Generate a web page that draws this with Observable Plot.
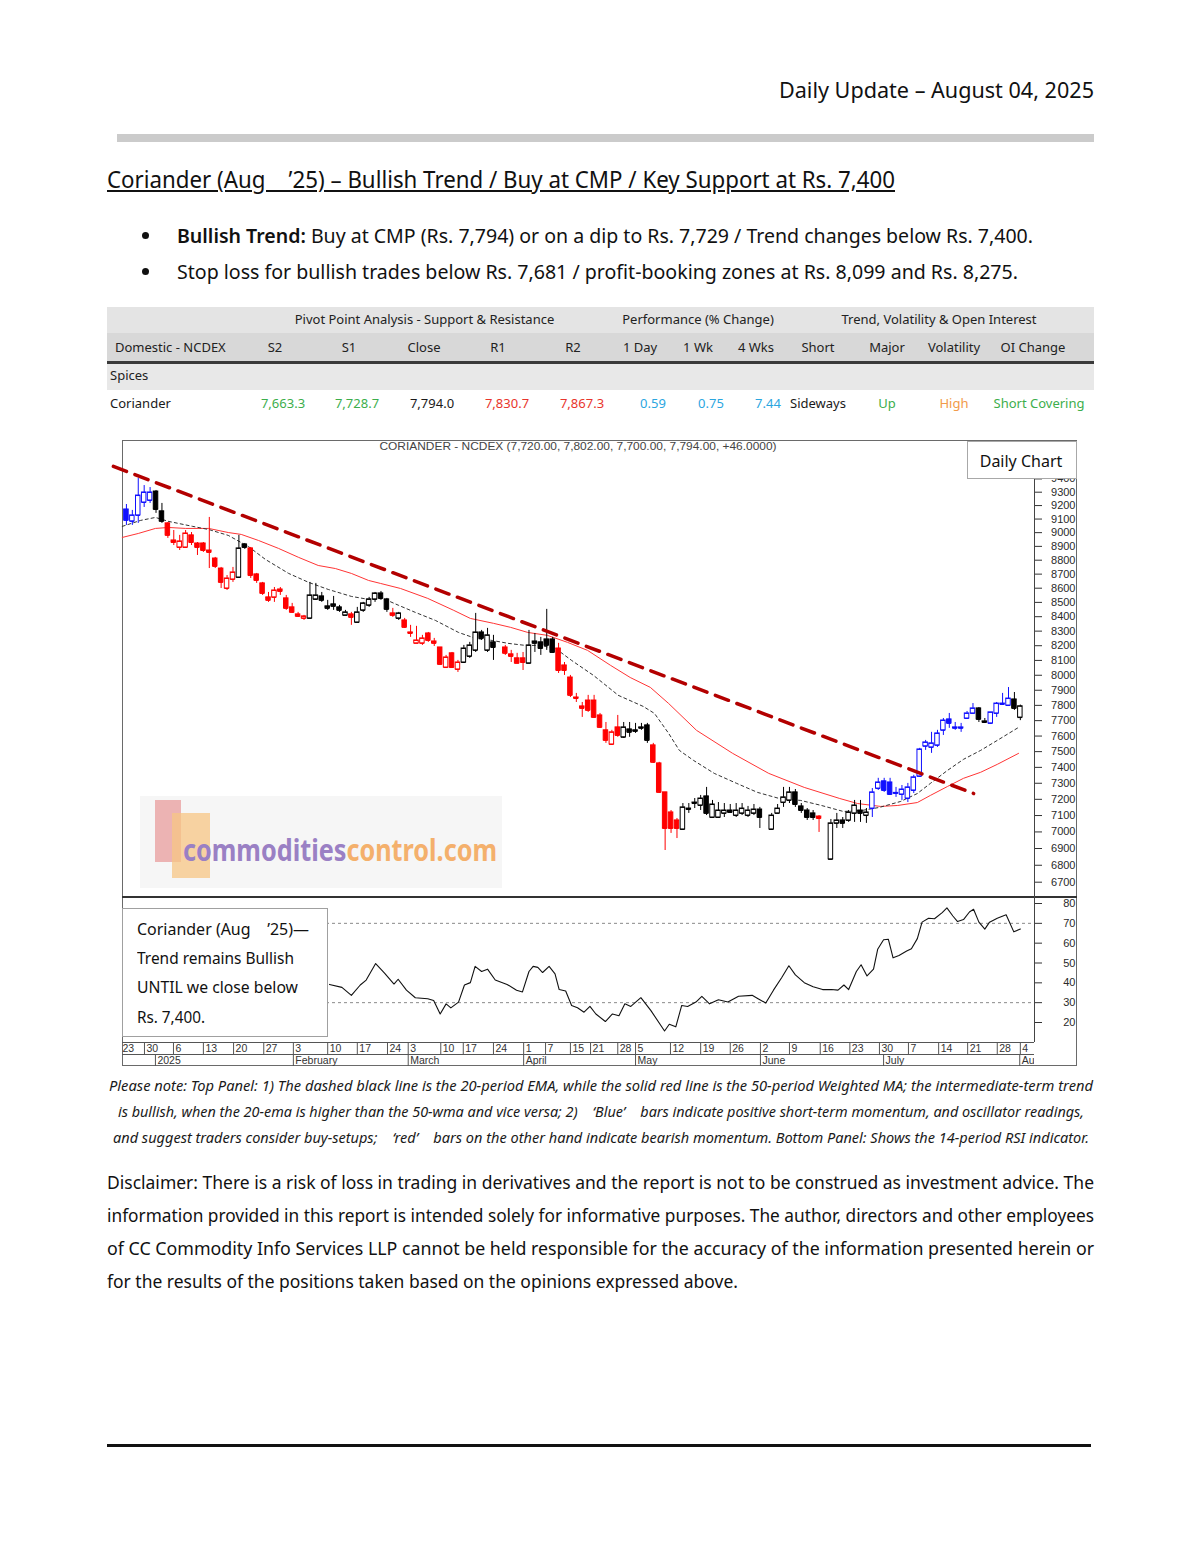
<!DOCTYPE html>
<html>
<head>
<meta charset="utf-8">
<title>Coriander Daily Update</title>
<script src="https://cdn.jsdelivr.net/npm/d3@7"></script>
<script src="https://cdn.jsdelivr.net/npm/@observablehq/plot@0.6"></script>
<style>
html,body{margin:0;padding:0;background:#fff;}
#page{position:relative;width:1200px;height:1553px;overflow:hidden;font-family:"Noto Sans",sans-serif;color:#1a1a1a;}
.t{position:absolute;white-space:pre;}
.box{position:absolute;box-sizing:border-box;}
.plotwrap{position:absolute;}
.plotwrap svg{display:block;overflow:visible;}
</style>
</head>
<body>
<div id="page"></div>
<script>
// ---------------- DATA ----------------
// trading-day index of each candle (0 = 23 Dec 2024, last = 4 Aug 2025)
const candleIdx = [1,2,3,4,5,6,7,8,9,10,11,12,13,14,15,16,17,18,19,20,21,22,23,24,25,26,27,28,29,30,31,32,33,34,35,36,37,38,39,40,
41,42,43,44,45,46,47,48,49,50,51,52,53,54,55,56,57,58,59,60,61,62,63,
65,66,67,68,69,70,71,72,73,74,75,76,77,78,79,80,81,82,83,84,85,86,87,88,89,90,91,92,93,94,95,96,97,98,99,100,101,102,103,104,105,106,107,108,
110,111,112,113,114,115,116,117,118,
120,121,122,123,124,125,126,127,128,129,130,131,132,133,134,135,136,137,138,139,140,141,142,143,144,145,146,147,148,149,150,151,152];
const candleOpen = [9171,9083,9127,9223,9238,9305,9157,9068,8943,8892, 8892,8980,8921,8921,8870,8812,8740,8598,8662,8676,
8914,8885,8698,8634,8535,8535,8591,8528,8465,8416, 8388,8388,8521,8542,8472,8486,8465,8409,8416,8360,
8444,8479,8521,8563,8521,8423,8388,8374,8291,8216, 8216,8284,8229,8188,8052,8148,8039,8086,8127,8168,8291,8168,8223,
8188,8141,8114,8114,8080,8229,8223,8243,8243,8181, 8066,7985,7852,7793,7832,7832,7734,7637,7546,7656,
7592,7643,7637,7656,7669,7540,7425,7243,7119,7070, 7015,7143,7180,7162,7218,7088,7088,7113,7131,7100, 7113,7100,7113,7137,
7015,7113,7180,7193,7243,7156,7131,7113,7094,
6835,7052,7070,7070,7113,7131,7100,7143,7267,7312, 7305,7240,7230,7205,7255,7343,7534,7527,7540,7637,
7708,7656,7650,7714,7747,7780,7695,7682,7747,7806, 7799,7839,7720];
const candleHigh = [9208,9164,9403,9350,9335,9313,9216,9075,9016,8980, 9016,9001,8928,8928,9112,8820,8748,8690,8748,8980,
8921,8892,8705,8641,8570,8605,8605,8549,8493,8430, 8409,8641,8634,8570,8514,8542,8479,8444,8430,8465,
8500,8535,8570,8577,8528,8458,8430,8388,8340,8333, 8271,8291,8250,8188,8134,8154,8100,8202,8223,8423,8305,8319,8271,
8202,8168,8148,8154,8305,8284,8257,8451,8257,8216, 8086,7999,7879,7819,7866,7866,7747,7688,7637,7734,
7688,7688,7682,7682,7682,7553,7432,7243,7131,7082, 7174,7174,7205,7224,7274,7193,7180,7174,7168,7174, 7174,7156,7168,7150,
7113,7168,7274,7274,7261,7174,7143,7131,7100,
7076,7113,7088,7131,7193,7193,7143,7267,7331,7331, 7331,7274,7286,7299,7350,7521,7572,7624,7637,7714,
7747,7688,7682,7760,7812,7786,7714,7754,7819,7879, 7918,7885,7802];
const candleLow = [9053,9053,9068,9186,9216,9142,9068,8958,8906,8870, 8885,8906,8834,8856,8740,8740,8598,8584,8641,8676,
8878,8669,8634,8549,8500,8500,8549,8444,8423,8395, 8374,8388,8514,8500,8444,8444,8430,8409,8340,8360,
8430,8465,8500,8514,8430,8395,8374,8319,8257,8216, 8202,8223,8195,8066,8046,8046,8019,8080,8114,8154,8236,8154,8100,
8134,8086,8080,8032,8080,8154,8134,8168,8148,8012, 7999,7852,7819,7721,7754,7714,7650,7553,7540,7592,
7585,7592,7617,7637,7553,7425,7236,6888,6991,6960, 7015,7113,7143,7131,7100,7088,7082,7088,7113,7088, 7100,7088,7100,7021,
7009,7113,7150,7174,7150,7113,7070,7070,6997,
6829,7021,7021,7058,7058,7058,7052,7088,7255,7243, 7224,7212,7193,7180,7236,7337,7508,7489,7527,7604,
7650,7637,7624,7714,7747,7688,7682,7675,7721,7799, 7793,7767,7700];
const candleClose = [9090,9127,9275,9298,9298,9171,9083,8980,8928,8936, 8994,8928,8892,8870,8856,8755,8641,8669,8712,8885,
8892,8690,8655,8563,8514,8584,8577,8458,8430,8402, 8402,8549,8549,8514,8458,8472,8444,8430,8395,8430,
8493,8521,8563,8528,8451,8409,8423,8326,8284,8236, 8250,8236,8216,8073,8120,8052,8086,8181,8202,8291,8250,8271,8188,
8148,8127,8080,8086,8202,8216,8181,8202,8154,8032, 8032,7866,7845,7780,7767,7721,7656,7572,7624,7604,
7656,7624,7630,7650,7572,7432,7243,7021,7021,7021, 7150,7137,7174,7205,7113,7168,7131,7131,7119,7131, 7143,7131,7137,7088,
7100,7143,7212,7243,7168,7131,7088,7088,7082,
7052,7070,7052,7119,7162,7113,7119,7243,7305,7255, 7230,7236,7261,7274,7337,7514,7559,7553,7617,7701,
7682,7650,7656,7747,7780,7708,7688,7754,7812,7812, 7845,7780,7794];
// bar colour: b = blue (positive momentum), k = black (neutral), r = red (bearish)
const candleColor = ["b","b","b","b","b","k","k","r","r","r", "r","r","r","r","r","r","r","r","r","k",
"k","r","r","r","r","r","r","r","r","r", "r","k","k","k","k","k","k","k","r","k",
"k","k","k","k","k","r","k","r","r","r", "r","r","r","r","r","r","r","k","k","k","k","k","k",
"r","r","r","r","k","k","k","k","k","r", "r","r","r","r","r","r","r","r","r","r",
"k","k","k","k","k","r","r","r","r","r", "k","k","k","k","k","k","k","k","k","k", "k","k","k","k",
"k","k","k","k","k","k","k","k","r",
"k","k","k","k","k","k","k","b","b","b", "b","b","b","b","b","b","b","b","b","b",
"b","b","b","b","b","k","k","b","b","b", "b","k","k"];

// 20-period EMA (dashed black)
const emaIdx = [0.3,3.4,5.9,8.1,12.2,14.9,18.2,21.6,24.5,28.4,31.8,35.1,39.0,41.9,44.3,47.0,49.8,53.2,57.1,60.0,62.8,65.5,68.4,70.9,73.5,76.2,79.9,84.1,88.3,90.2,92.6,94.4,96.8,100.3,104.1,107.6,111.3,114.9,118.4,122.1,125.2,128.2,131.8,134.6,136.8,139.7,142.4,145.3,148.1,151.7];
const emaVal = [9046,9090,9112,9083,9046,9023,8980,8899,8805,8705,8641,8591,8542,8521,8528,8479,8430,8374,8291,8250,8236,8216,8202,8202,8181,8100,7999,7866,7793,7747,7617,7508,7444,7362,7299,7243,7205,7193,7162,7125,7131,7150,7187,7236,7299,7381,7451,7508,7572,7656];
// 50-period WMA (solid red)
const wmaIdx = [0.3,3.0,5.9,8.1,11.0,14.9,18.2,20.4,23.3,26.7,30.1,33.4,36.3,39.0,41.9,43.9,47.3,51.9,56.3,59.1,63.0,65.9,68.8,72.1,75.5,78.9,82.8,86.1,89.5,92.6,97.3,103.4,109.5,115.5,121.5,124.5,128.4,131.3,134.6,136.8,139.7,142.4,145.3,148.1,151.7];
const wmaVal = [8965,8994,9031,9038,9031,9031,9001,8987,8943,8885,8820,8762,8740,8705,8655,8634,8598,8528,8444,8388,8354,8326,8291,8271,8223,8168,8066,7985,7919,7812,7637,7489,7362,7274,7205,7174,7156,7162,7180,7224,7280,7331,7369,7419,7489];
// hand-drawn falling trend line
const trendIdx = [-1.2, 144.1];
const trendVal = [9495, 7236];
// 14-period RSI
const rsiIdx = [35.3,37.4,39.0,40.5,41.5,43.1,44.6,46.2,46.9,48.3,49.8,51.9,52.9,54.0,55.0,55.8,57.1,58.1,59.1,59.9,61.0,62.0,63.3,65.3,66.9,67.9,69.0,69.7,70.5,71.3,72.4,73.4,74.1,75.2,76.2,77.2,78.3,79.3,80.3,81.9,83.1,84.2,85.2,86.2,87.9,89.6,91.9,92.7,93.8,94.8,95.8,97.2,98.2,99.5,101.0,102.6,104.4,106.7,107.7,109.0,110.3,111.7,112.9,114.0,115.5,117.0,118.6,120.1,121.2,122.2,123.0,124.3,125.1,126.1,127.2,127.9,128.9,129.7,130.5,131.5,132.8,133.6,134.6,135.4,136.5,137.5,138.8,139.6,140.6,141.4,142.4,143.4,144.1,145.0,146.0,146.8,148.1,149.6,150.9,152.0];
const rsiVal = [39.2,37.7,33.7,38.9,41.4,49.7,44.9,39.4,41.8,36.3,32.5,32.0,31.1,24.3,29.4,27.4,30.3,38.9,40.1,48.3,45.7,46.9,41.4,39.2,36.3,35.4,45.7,48.3,47.8,45.2,48.3,44.5,36.6,35.9,28.6,27.4,25.2,28.1,24.3,20.5,24.3,23.4,29.4,28.1,32.5,26.0,15.7,19.1,17.8,28.6,28.1,30.3,33.2,29.4,31.5,30.3,33.2,33.7,32.0,29.8,36.3,42.7,48.6,44.0,40.1,38.0,36.6,36.6,36.3,38.9,36.6,45.7,49.1,43.5,46.9,56.9,61.7,62.0,52.6,53.8,56.0,57.2,62.3,70.6,72.6,72.3,75.4,77.8,73.7,70.9,71.9,75.7,77.1,70.6,67.1,70.6,72.6,74.3,65.7,67.1];
const rsiBands = [30, 70];
const rsiTicks = [20,30,40,50,60,70,80];
const priceTicks = [6700,6800,6900,7000,7100,7200,7300,7400,7500,7600,7700,7800,7900,8000,8100,8200,8300,8400,8500,8600,8700,8800,8900,9000,9100,9200,9300,9400];
// date axis
const dateTickIdx = [0,4.05,8.95,14.0,19.1,24.2,29.2,35.0,40.0,45.1,48.6,54.1,57.9,63.0,68.1,71.8,76.0,79.4,84.0,87.0,92.9,98.0,103.0,108.1,113.0,118.2,123.2,128.2,133.1,138.2,143.1,148.1,152.0];
const dateTickLabel = ["23","30","6","13","20","27","3","10","17","24","3","10","17","24","1","7","15","21","28","5","12","19","26","2","9","16","23","30","7","14","21","28","4"];
const monthIdx = [5.9,29.2,48.6,68.1,87.0,108.1,128.9,151.9];
const monthLabel = ["2025","February","March","April","May","June","July","August"];
// table
const tableGroups = ["Pivot Point Analysis - Support & Resistance","Performance (% Change)","Trend, Volatility & Open Interest"];
const tableHeaders = ["Domestic - NCDEX","S2","S1","Close","R1","R2","1 Day","1 Wk","4 Wks","Short","Major","Volatility","OI Change"];
const tableSection = "Spices";
const tableRow = ["Coriander","7,663.3","7,728.7","7,794.0","7,830.7","7,867.3","0.59","0.75","7.44","Sideways","Up","High","Short Covering"];
const tableRowColor = ["#1a1a1a","#3cae4c","#3cae4c","#1a1a1a","#e8352c","#e8352c","#2ba6df","#2ba6df","#2ba6df","#1a1a1a","#3cae4c","#f29a4a","#3cae4c"];

// ---------------- LAYOUT HELPERS ----------------
const page = document.getElementById("page");
function box(l, t, w, h, css) {
  const d = document.createElement("div");
  d.className = "box";
  Object.assign(d.style, {left: l + "px", top: t + "px", width: w + "px", height: h + "px"}, css || {});
  page.appendChild(d);
  return d;
}
function text(html, o) {
  const s = document.createElement("div");
  s.className = "t";
  s.innerHTML = html;
  const fs = o.size;
  const k = o.k || 0.888;
  s.style.fontSize = fs + "px";
  s.style.lineHeight = fs + "px";
  s.style.top = (o.base - k * fs) + "px";
  s.style.left = o.x + "px";
  if (o.font) s.style.fontFamily = o.font;
  if (o.color) s.style.color = o.color;
  if (o.weight) s.style.fontWeight = o.weight;
  if (o.italic) s.style.fontStyle = "italic";
  if (o.deco) s.style.textDecoration = o.deco;
  page.appendChild(s);
  const w = s.getBoundingClientRect().width;
  const sx = o.width ? o.width / w : 1;
  let tx = 0, origin = "left center";
  if (o.anchor === "middle") { tx = -50; origin = "center center"; }
  else if (o.anchor === "end") { tx = -100; origin = "right center"; }
  s.style.transformOrigin = origin;
  s.style.transform = `translateX(${tx}%) scaleX(${sx})`;
  return s;
}

// ---------------- HEADER ----------------
text("Daily Update – August 04, 2025", {x: 1094, base: 98, size: 22, anchor: "end", width: 315, color: "#111"});
box(117, 134, 977, 8, {background: "#cbcbcb"});
text("Coriander (Aug&nbsp;&nbsp;&nbsp;&nbsp;’25) – Bullish Trend / Buy at CMP / Key Support at Rs. 7,400", {x: 107, base: 188, size: 23, width: 788, deco: "underline", color: "#111"});
box(142, 232, 7, 7, {background: "#111", borderRadius: "50%"});
box(142, 268, 7, 7, {background: "#111", borderRadius: "50%"});
text("<b style='font-weight:600'>Bullish Trend:</b> Buy at CMP (Rs. 7,794) or on a dip to Rs. 7,729 / Trend changes below Rs. 7,400.", {x: 177, base: 243, size: 20.5, width: 856, color: "#111"});
text("Stop loss for bullish trades below Rs. 7,681 / profit-booking zones at Rs. 8,099 and Rs. 8,275.", {x: 177, base: 279, size: 20.5, width: 841, color: "#111"});

// ---------------- TABLE ----------------
box(107, 307, 987, 26, {background: "#e4e4e4"});
box(107, 333, 987, 28, {background: "#d8d8d8"});
box(107, 361, 987, 2.5, {background: "#3a3a3a"});
box(107, 363.5, 987, 26.5, {background: "#e8e8e8"});
const groupCx = [424.5, 698, 939];
tableGroups.forEach((g, j) => text(g, {x: groupCx[j], base: 324.5, size: 13, anchor: "middle", color: "#222"}));
const headCx = [115, 275, 349, 424, 498, 573, 640, 698, 756, 818, 887, 954, 1033];
tableHeaders.forEach((h, j) => text(h, {x: headCx[j], base: 352.5, size: 13, anchor: j === 0 ? "start" : "middle", color: "#222"}));
text(tableSection, {x: 110, base: 380.5, size: 13, color: "#222"});
const rowCx = [110, 283, 357, 432, 507, 582, 653, 711, 768, 818, 887, 954, 1039];
tableRow.forEach((v, j) => text(v, {x: rowCx[j], base: 408.5, size: 13, anchor: j === 0 ? "start" : "middle", color: tableRowColor[j]}));

// ---------------- CHART FRAME ----------------
box(122, 440, 955, 626, {border: "1px solid #6a6a6a", background: "#fff"});
// watermark
box(140, 796, 362, 92, {background: "#f6f6f6"});
box(155, 800, 26, 62, {background: "#eaa3a3", opacity: 0.8});
box(172, 813, 38, 65, {background: "#f7c684", opacity: 0.75});
text("<span style='color:#9a80c4'>commodities</span><span style='color:#f4b06c'>control.com</span>", {x: 183, base: 862, size: 30, weight: 700, width: 314});

const xRange = [20, 20 + 5.92 * 152];
const xScale = {domain: [0, 152], range: xRange, axis: null};
const baseStyle = {background: "transparent", overflow: "visible", fontFamily: "'Liberation Sans', Arial, sans-serif", fontSize: "11px", color: "#333"};

const colorMap = {b: "#1010ff", k: "#000000", r: "#ff0000"};
const candles = candleIdx.map((i, k) => ({
  i, open: candleOpen[k], high: candleHigh[k], low: candleLow[k], close: candleClose[k],
  col: colorMap[candleColor[k]], up: candleClose[k] >= candleOpen[k]
}));
const ema = emaIdx.map((i, k) => ({i, v: emaVal[k]}));
const wma = wmaIdx.map((i, k) => ({i, v: wmaVal[k]}));
const trend = trendIdx.map((i, k) => ({i, v: trendVal[k]}));
const rsi = rsiIdx.map((i, k) => ({i, v: rsiVal[k]}));
const halfW = 0.38;

function mount(el, left, top) {
  const w = document.createElement("div");
  w.className = "plotwrap";
  w.style.left = left + "px";
  w.style.top = top + "px";
  w.appendChild(el);
  page.appendChild(w);
}

const pricePlot = Plot.plot({
  width: 980, height: 457, marginLeft: 22, marginRight: 46, marginTop: 0, marginBottom: 0,
  x: xScale,
  y: {type: "pow", exponent: 0.25, domain: [6700, 9300], range: [441.7, 51.7], axis: null},
  color: {type: "identity"},
  style: baseStyle,
  marks: [
    Plot.line(wma, {x: "i", y: "v", stroke: "#ff3535", strokeWidth: 1}),
    Plot.line(ema, {x: "i", y: "v", stroke: "#333", strokeWidth: 1, strokeDasharray: "3,3"}),
    Plot.ruleX(candles, {x: "i", y1: "low", y2: "high", stroke: "col", strokeWidth: 1}),
    Plot.rect(candles, {x1: d => d.i - halfW, x2: d => d.i + halfW, y1: "open", y2: "close",
      fill: d => d.up ? "#ffffff" : d.col, stroke: "col", strokeWidth: 1}),
    Plot.ruleY(candles, {x1: d => d.i - halfW, x2: d => d.i + halfW, y: "open", stroke: "col", strokeWidth: 1}),
    Plot.ruleY(candles, {x1: d => d.i - halfW, x2: d => d.i + halfW, y: "close", stroke: "col", strokeWidth: 1}),
    Plot.line(trend, {x: "i", y: "v", stroke: "#b30000", strokeWidth: 3.5, strokeDasharray: "14,9"}),
    Plot.axisY(priceTicks, {anchor: "right", tickSize: 7, tickPadding: 34, textAnchor: "end",
      tickFormat: d => String(d), label: null, stroke: "#333", fill: "#2a2a2a"})
  ]
});
mount(pricePlot, 100, 440);

const rsiPlot = Plot.plot({
  width: 980, height: 145, marginLeft: 22, marginRight: 46, marginTop: 0, marginBottom: 0,
  x: xScale,
  y: {domain: [20, 80], range: [125, 6], axis: null},
  style: baseStyle,
  marks: [
    Plot.ruleY(rsiBands, {stroke: "#8a8a8a", strokeDasharray: "3,3", strokeWidth: 1}),
    Plot.line(rsi, {x: "i", y: "v", stroke: "#111", strokeWidth: 1.1}),
    Plot.axisY(rsiTicks, {anchor: "right", tickSize: 7, tickPadding: 34, textAnchor: "end",
      tickFormat: d => String(d), label: null, stroke: "#333", fill: "#2a2a2a"})
  ]
});
mount(rsiPlot, 100, 897);

const dateTicks = dateTickIdx.map((i, k) => ({i, label: dateTickLabel[k]}));
const months = monthIdx.map((i, k) => ({i, label: monthLabel[k]}));
const datePlot = Plot.plot({
  width: 980, height: 24, marginLeft: 22, marginRight: 46, marginTop: 0, marginBottom: 0,
  x: xScale,
  y: {domain: [0, 2], range: [0, 24], axis: null},
  style: {...baseStyle, fontSize: "10.5px"},
  marks: [
    Plot.ruleY([1], {stroke: "#555"}),
    Plot.ruleX(dateTicks, {x: "i", y1: 0, y2: 1, stroke: "#555", clip: true}),
    Plot.text(dateTicks, {x: "i", y: 0.5, text: "label", textAnchor: "start", dx: 2, fill: "#333", clip: true}),
    Plot.ruleX(months, {x: "i", y1: 1, y2: 2, stroke: "#555", clip: true}),
    Plot.text(months, {x: "i", y: 1.5, text: "label", textAnchor: "start", dx: 2, fill: "#333", clip: true})
  ]
});
mount(datePlot, 100, 1042);

// panel lines
box(122, 896, 955, 2, {background: "#333"});
box(122, 1041.5, 912, 1, {background: "#555"});
box(1033.5, 441, 1, 601, {background: "#444"});

// chart title and overlays
text("CORIANDER - NCDEX (7,720.00, 7,802.00, 7,700.00, 7,794.00, +46.0000)", {x: 578, base: 450, size: 11, k: 0.8465, font: "'Liberation Sans', Arial, sans-serif", anchor: "middle", width: 397, color: "#444"});
box(967, 441, 110, 38, {background: "#fff", border: "1px solid #a8a8a8"});
text("Daily Chart", {x: 1021, base: 467, size: 16, anchor: "middle", color: "#111"});
box(122, 908, 206, 129, {background: "#fff", border: "1px solid #a0a0a0"});
text("Coriander (Aug&nbsp;&nbsp;&nbsp;&nbsp;’25)—", {x: 137, base: 936, size: 15.5, width: 172, color: "#111"});
text("Trend remains Bullish", {x: 137, base: 965, size: 15.5, width: 157, color: "#111"});
text("UNTIL we close below", {x: 137, base: 994, size: 15.5, width: 161, color: "#111"});
text("Rs. 7,400.", {x: 137, base: 1024, size: 15.5, width: 68, color: "#111"});

// ---------------- CAPTION & DISCLAIMER ----------------
text("Please note: Top Panel: 1) The dashed black line is the 20-period EMA, while the solid red line is the 50-period Weighted MA; the intermediate-term trend", {x: 601, base: 1091, size: 14, italic: true, anchor: "middle", width: 984, color: "#1a1a1a"});
text("is bullish, when the 20-ema is higher than the 50-wma and vice versa; 2)&nbsp;&nbsp;&nbsp;&nbsp;‘Blue’&nbsp;&nbsp;&nbsp;&nbsp;bars indicate positive short-term momentum, and oscillator readings,", {x: 601, base: 1117, size: 14, italic: true, anchor: "middle", width: 966, color: "#1a1a1a"});
text("and suggest traders consider buy-setups;&nbsp;&nbsp;&nbsp;&nbsp;‘red’&nbsp;&nbsp;&nbsp;&nbsp;bars on the other hand indicate bearish momentum. Bottom Panel: Shows the 14-period RSI indicator.", {x: 601, base: 1143, size: 14, italic: true, anchor: "middle", width: 976, color: "#1a1a1a"});

text("Disclaimer: There is a risk of loss in trading in derivatives and the report is not to be construed as investment advice. The", {x: 107, base: 1189, size: 18.5, width: 987, color: "#111"});
text("information provided in this report is intended solely for informative purposes. The author, directors and other employees", {x: 107, base: 1222, size: 18.5, width: 987, color: "#111"});
text("of CC Commodity Info Services LLP cannot be held responsible for the accuracy of the information presented herein or", {x: 107, base: 1255, size: 18.5, width: 987, color: "#111"});
text("for the results of the positions taken based on the opinions expressed above.", {x: 107, base: 1288, size: 18.5, width: 631, color: "#111"});

box(107, 1444, 984, 3, {background: "#111"});
</script>
</body>
</html>
